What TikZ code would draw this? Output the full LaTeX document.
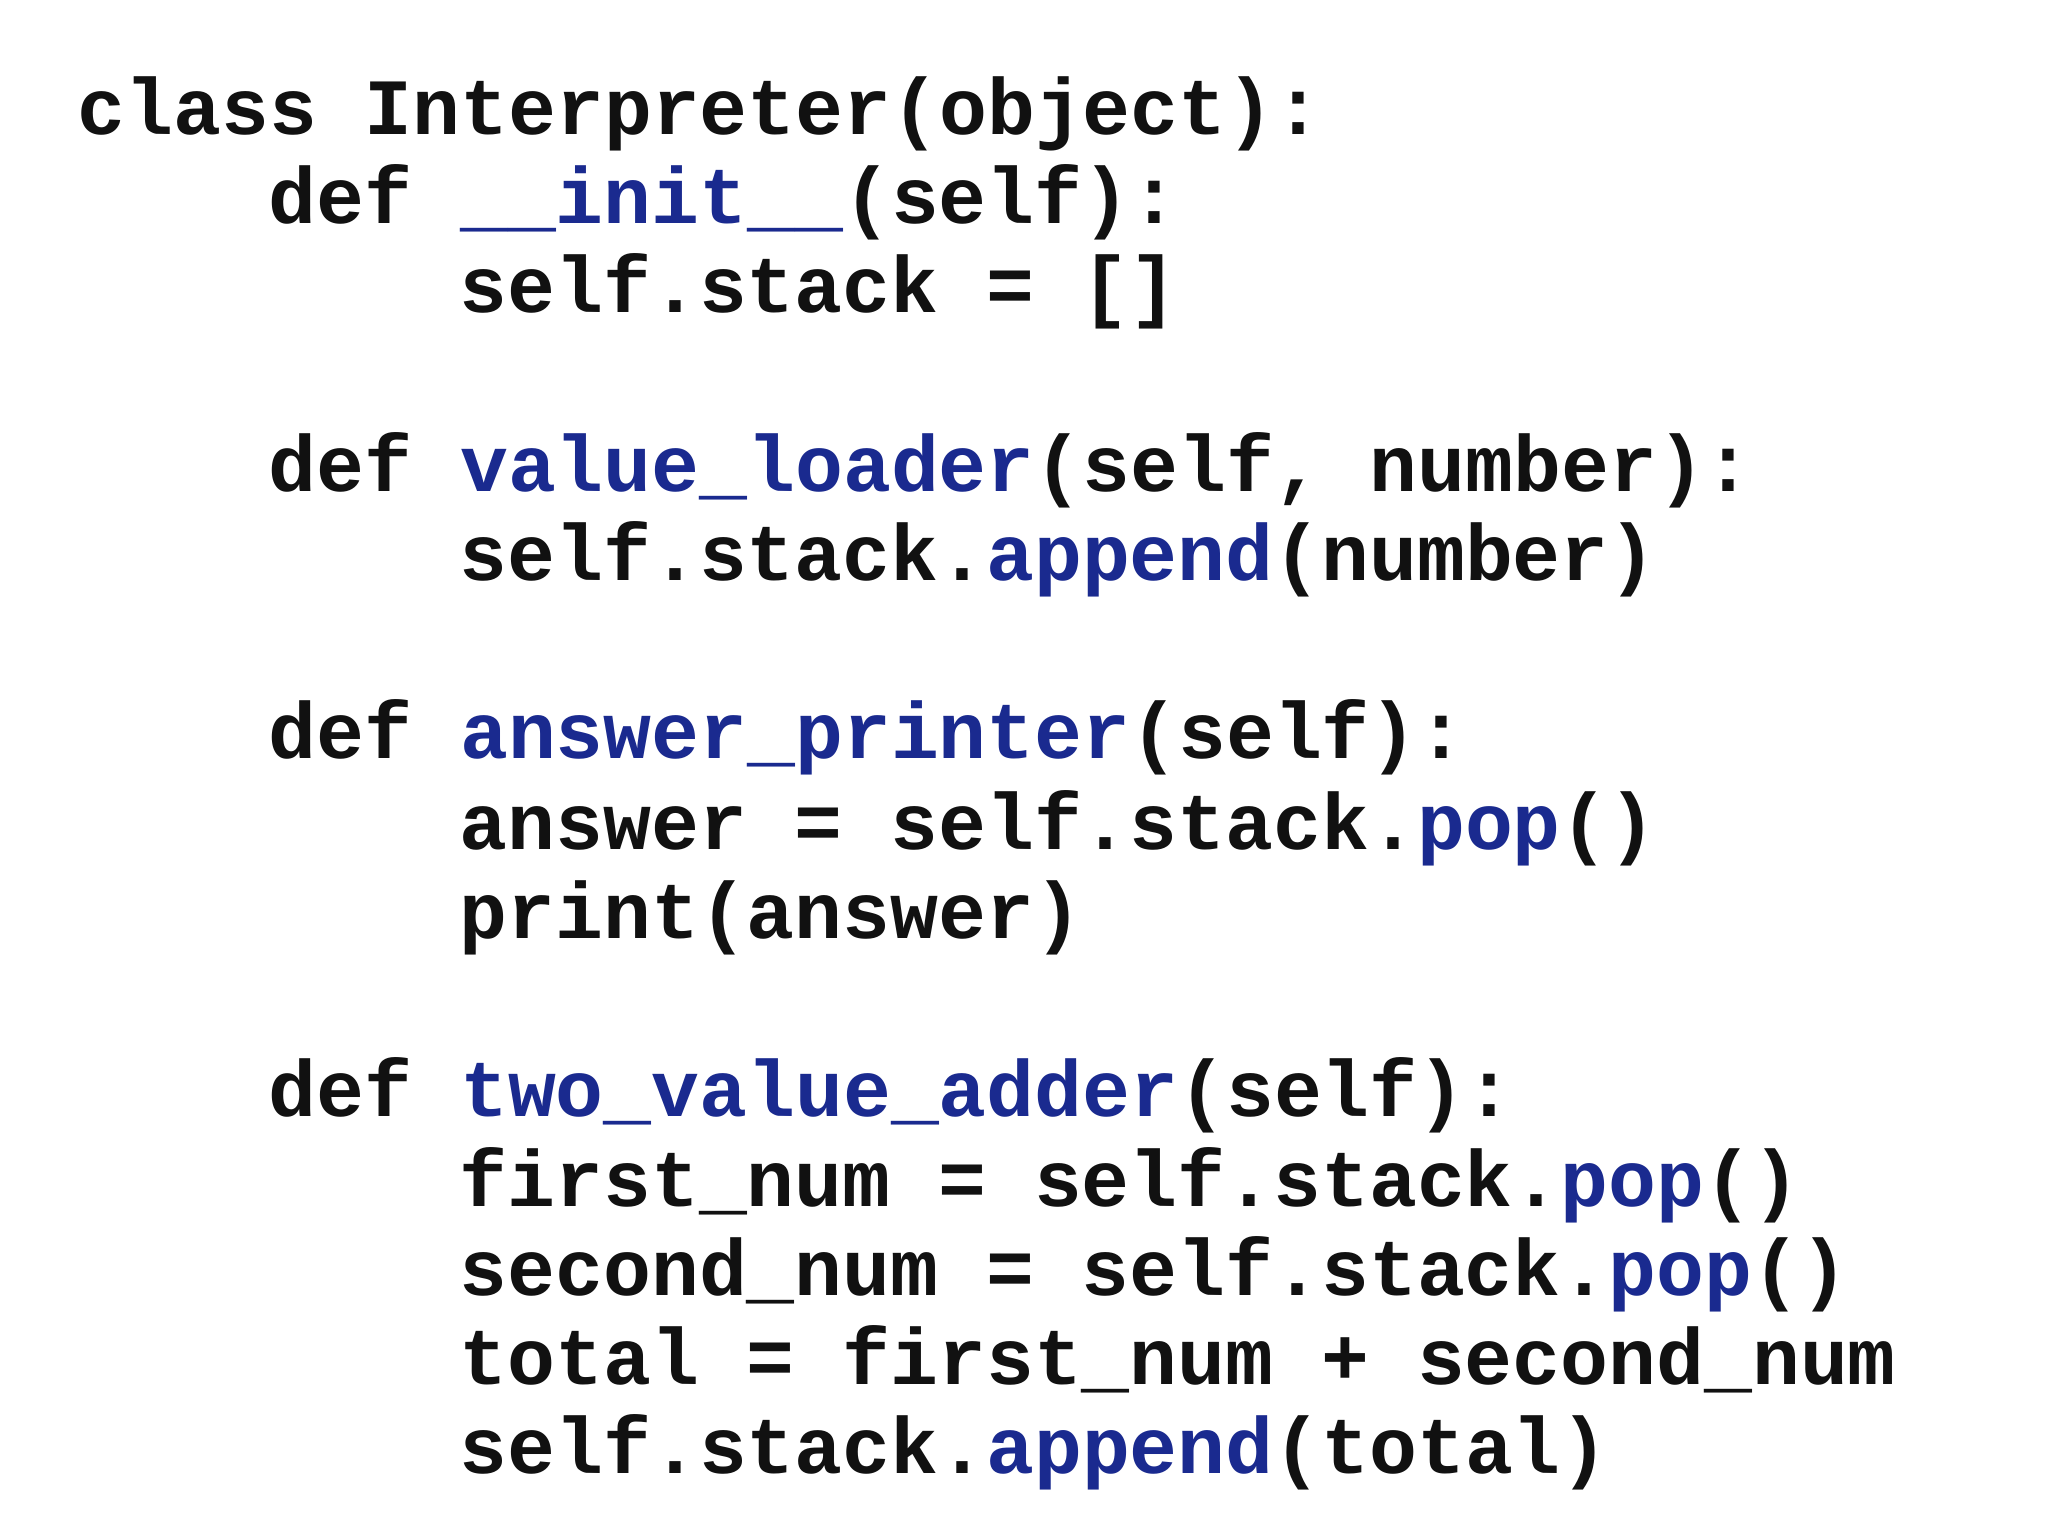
\documentclass[tikz,border=0pt]{standalone}
\usepackage{fontspec}
\setmonofont{Liberation Mono}
\definecolor{kw}{HTML}{1A2A8F}
\definecolor{tx}{HTML}{111111}
\begin{document}
\begin{tikzpicture}[x=1cm,y=-1cm,
  code/.style={anchor=base west,inner sep=0pt,text=tx,font=\ttfamily\bfseries\fontsize{22.7}{28}\selectfont}]
\useasboundingbox (0,0) rectangle (20.48,15.36);
\fill[white] (0,0) rectangle (20.48,15.36);
\def\X{0.77}\def\I{2.68}\def\J{4.59}
\node[code] (l0) at (\X,1.35) {class Interpreter(object):};
\node[code] (l1) at (\I,2.24) {def \textcolor{kw}{\_\_init\_\_}(self):};
\node[code] (l2) at (\J,3.13) {self.stack = []};
\node[code] (l4) at (\I,4.92) {def \textcolor{kw}{value\_loader}(self, number):};
\node[code] (l5) at (\J,5.81) {self.stack.\textcolor{kw}{append}(number)};
\node[code] (l7) at (\I,7.59) {def \textcolor{kw}{answer\_printer}(self):};
\node[code] (l8) at (\J,8.49) {answer = self.stack.\textcolor{kw}{pop}()};
\node[code] (l9) at (\J,9.38) {print(answer)};
\node[code] (l11) at (\I,11.16) {def \textcolor{kw}{two\_value\_adder}(self):};
\node[code] (l12) at (\J,12.06) {first\_num = self.stack.\textcolor{kw}{pop}()};
\node[code] (l13) at (\J,12.95) {second\_num = self.stack.\textcolor{kw}{pop}()};
\node[code] (l14) at (\J,13.84) {total = first\_num + second\_num};
\node[code] (l15) at (\J,14.73) {self.stack.\textcolor{kw}{append}(total)};
\end{tikzpicture}
\end{document}
